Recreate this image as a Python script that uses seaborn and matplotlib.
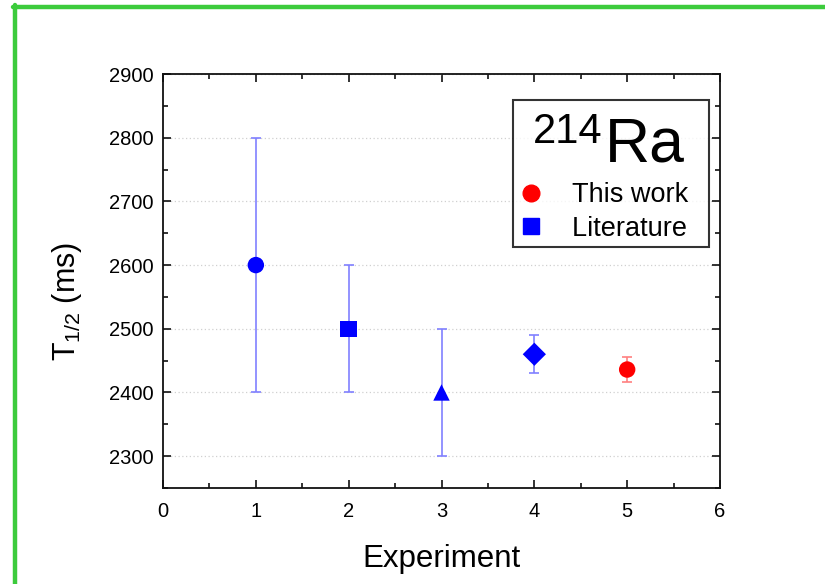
import matplotlib
matplotlib.use("Agg")
import matplotlib.pyplot as plt
import seaborn as sns
import pandas as pd
from matplotlib.lines import Line2D
from matplotlib.ticker import MultipleLocator

experiments = [1, 2, 3, 4, 5]
half_life = [2600, 2500, 2400, 2460, 2436]
errors = [200, 100, 100, 30, 20]
sources = ["Literature", "Literature", "Literature", "Literature", "This work"]
markers_list = ["o", "s", "^", "D", "o"]

sns.set_style("ticks")
plt.rcParams['font.family'] = ['Liberation Sans', 'DejaVu Sans']
plt.rcParams['mathtext.fontset'] = 'custom'
plt.rcParams['mathtext.rm'] = 'Liberation Sans'
plt.rcParams['mathtext.it'] = 'Liberation Sans'
plt.rcParams['mathtext.bf'] = 'Liberation Sans'
plt.rcParams['text.color'] = 'black'
plt.rcParams['axes.labelcolor'] = 'black'
plt.rcParams['xtick.color'] = 'black'
plt.rcParams['ytick.color'] = 'black'

df = pd.DataFrame({"Experiment": experiments, "T": half_life, "err": errors,
                   "Source": sources, "m": markers_list})

fig = plt.figure(figsize=(8.25, 5.84), dpi=100)
L, R, T, B = 163, 720, 74, 488
ax = fig.add_axes([L/825, 1-B/584, (R-L)/825, (B-T)/584])

def ax_xy(px, py):
    return (px - L) / (R - L), (B - py) / (B - T)

colors = {"Literature": "#0000ff", "This work": "#ff0000"}
ecolors = {"Literature": "#8080ff", "This work": "#ff8080"}

for _, r in df.iterrows():
    ax.errorbar(r["Experiment"], r["T"], yerr=r["err"], fmt="none",
                ecolor=ecolors[r["Source"]], elinewidth=1.2, capsize=3.5,
                capthick=1.2, zorder=2)

sns.scatterplot(data=df, x="Experiment", y="T", hue="Source", style="Experiment",
                markers={e: m for e, m in zip(experiments, markers_list)},
                palette=colors, s=140, edgecolor="none", legend=False, ax=ax, zorder=3)

ax.set_xlim(0, 6)
ax.set_ylim(2250, 2900)
ax.xaxis.set_major_locator(MultipleLocator(1))
ax.xaxis.set_minor_locator(MultipleLocator(0.5))
ax.yaxis.set_major_locator(MultipleLocator(100))
ax.yaxis.set_minor_locator(MultipleLocator(50))
ax.set_yticks([2300, 2400, 2500, 2600, 2700, 2800, 2900])
ax.tick_params(which="both", direction="in", top=True, right=True, width=1.2,
               color="#111111")
ax.tick_params(which="major", length=6, labelsize=14.5, pad=7)
ax.tick_params(axis="x", which="major", pad=10)
ax.tick_params(which="minor", length=3.5)
for s in ax.spines.values():
    s.set_linewidth(1.3)
    s.set_color("#111111")
ax.yaxis.grid(True, which="major", linestyle=(0, (1, 2)), color="#d0d0d0", linewidth=0.9)
ax.set_axisbelow(True)

ax.set_xlabel("Experiment", fontsize=22.5, labelpad=17)
ax.set_ylabel("T$_{1/2}$ (ms)", fontsize=22)
ax.yaxis.set_label_coords(*ax_xy(84, 301))

handles = [Line2D([], [], marker="o", color="#ff0000", linestyle="none", markersize=12),
           Line2D([], [], marker="s", color="#0000ff", linestyle="none", markersize=11)]
leg = ax.legend(handles, ["This work  ", "Literature  "], title="\u00a0",
                loc="upper right", bbox_to_anchor=ax_xy(709, 100), fontsize=19.5,
                title_fontsize=53, frameon=True, fancybox=False, edgecolor="black",
                handletextpad=1.06, borderpad=0.2, labelspacing=0.28, handlelength=0.93,
                borderaxespad=0)
leg.get_frame().set_linewidth(1.5)

ax.text(*ax_xy(533, 143), "214", fontsize=30, ha="left", va="baseline",
        transform=ax.transAxes, zorder=6)
ax.text(*ax_xy(605, 161), "Ra", fontsize=45, ha="left", va="baseline",
        transform=ax.transAxes, zorder=6)

# green frame lines
fig.add_artist(Line2D([13/825, 1.0], [1-7/584, 1-7/584], color="#3ccb3c", linewidth=3.2,
                      transform=fig.transFigure))
fig.add_artist(Line2D([15/825, 15/825], [0, 1-5/584], color="#3ccb3c", linewidth=3.2,
                      transform=fig.transFigure))

fig.savefig("out.png", dpi=100)
